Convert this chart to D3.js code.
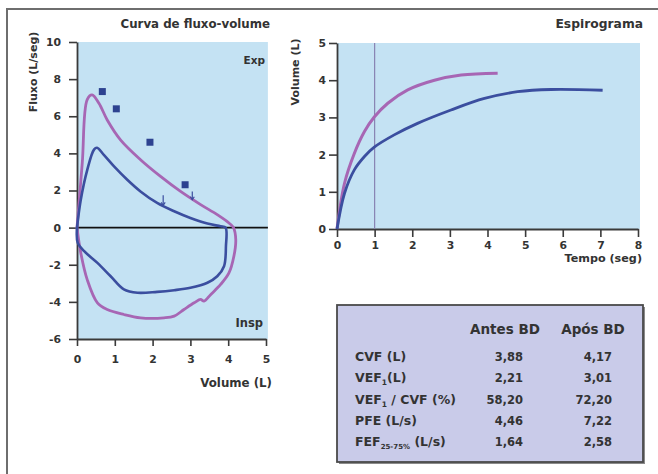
<!DOCTYPE html>
<html>
<head>
<meta charset="utf-8">
<script src="https://cdn.jsdelivr.net/npm/d3@7"></script>
<style>
  body { margin: 0; background: #fff; }
  svg text { font-family: "DejaVu Sans", sans-serif; font-weight: bold; fill: #333; }
</style>
</head>
<body>
<svg width="658" height="474"></svg>
<script>
// flow-volume loops, [volume (L), flow (L/s)]
var loopAntes = [[0,0],[0.1,1.5],[0.27,3.1],[0.45,4.2],[0.53,4.3],[0.71,3.92],[0.98,3.3],[1.33,2.58],[1.68,1.95],
  [2.12,1.33],[2.57,0.88],[3.0,0.52],[3.45,0.22],[3.8,0.07],[3.93,0],[3.94,-1.0],[3.89,-2.08],[3.71,-2.62],
  [3.45,-2.97],[3.0,-3.24],[2.57,-3.37],[2.12,-3.46],[1.6,-3.51],[1.24,-3.33],[0.89,-2.62],[0.54,-1.9],
  [0.19,-1.27],[0.02,-0.82],[0,0]];
var loopApos = [[0,0],[0.14,3.5],[0.27,6.9],[0.4,7.15],[0.58,6.7],[0.8,5.8],[1.15,4.73],[1.68,3.66],[2.21,2.76],
  [2.74,1.95],[3.27,1.24],[3.71,0.7],[4.02,0.25],[4.14,0],[4.2,-0.65],[4.15,-1.54],[4.02,-2.44],[3.8,-3.06],
  [3.54,-3.6],[3.36,-3.96],[3.27,-3.87],[3.1,-4.05],[2.83,-4.41],[2.57,-4.77],[2.3,-4.86],[1.68,-4.86],
  [1.24,-4.68],[0.8,-4.41],[0.54,-4.05],[0.27,-2.8],[0.1,-1.36],[0,0]];
// predicted values (squares) and arrows
var previstos = [[0.67,7.33],[1.04,6.4],[1.93,4.6],[2.86,2.31]];
var setas = [[2.28,1.75,1.2],[3.05,1.95,1.5]];

// spirogram, [time (s), volume (L)]
var espAntes = [[0,0],[0.2,0.96],[0.46,1.59],[0.73,1.95],[0.99,2.2],[1.52,2.53],[2.14,2.84],[3.03,3.2],
  [3.92,3.51],[4.8,3.69],[5.69,3.75],[7.06,3.73]];
var espApos = [[0,0],[0.2,1.23],[0.46,2.03],[0.73,2.62],[0.99,3.01],[1.35,3.38],[1.88,3.74],[2.59,4.0],
  [3.3,4.14],[4.27,4.19]];

var ticksFluxo = [-6,-4,-2,0,2,4,6,8,10];
var ticksVol = [0,1,2,3,4,5];
var ticksVolEsp = [0,1,2,3,4,5];
var ticksTempo = [0,1,2,3,4,5,6,7,8];

var linhas = ["CVF (L)", "VEF1(L)", "VEF1 / CVF (%)", "PFE (L/s)", "FEF25-75% (L/s)"];
var antesBD = ["3,88", "2,21", "58,20", "4,46", "1,64"];
var aposBD = ["4,17", "3,01", "72,20", "7,22", "2,58"];

var corAntes = "#3b4e9f", corApos = "#a766b4", fundo = "#c4e2f3";

var svg = d3.select("svg");

// frame
svg.append("path").attr("d", "M7,474V9H658").attr("fill", "none").attr("stroke", "#6e6e6e").attr("stroke-width", 2);

var fmt = function(d){ return String(d); };

// ---------- flow-volume ----------
var x1 = d3.scaleLinear().domain([0, 5]).range([77, 266]);
var y1 = d3.scaleLinear().domain([-6, 10]).range([339, 42]);

svg.append("rect").attr("x", x1(0)).attr("y", y1(10)).attr("width", x1(5.05) - x1(0))
  .attr("height", y1(-6) - y1(10)).attr("fill", fundo);

var gy1 = svg.append("g").attr("transform", "translate(" + x1(0) + ",0)")
  .call(d3.axisLeft(y1).tickValues(ticksFluxo).tickFormat(fmt).tickSize(8).tickPadding(8).tickSizeOuter(0));
var gx1 = svg.append("g").attr("transform", "translate(0," + y1(-6) + ")")
  .call(d3.axisBottom(x1).tickValues(ticksVol).tickFormat(fmt).tickSize(7).tickPadding(9).tickSizeOuter(0));

svg.append("line").attr("x1", x1(0)).attr("x2", x1(5.05)).attr("y1", y1(0)).attr("y2", y1(0))
  .attr("stroke", "#111").attr("stroke-width", 1.6);

var linha1 = d3.line().x(function(d){return x1(d[0]);}).y(function(d){return y1(d[1]);}).curve(d3.curveCatmullRom);
svg.append("path").datum(loopApos).attr("d", linha1).attr("fill", "none").attr("stroke", corApos).attr("stroke-width", 2.8);
svg.append("path").datum(loopAntes).attr("d", linha1).attr("fill", "none").attr("stroke", corAntes).attr("stroke-width", 2.6);

svg.selectAll(".prev").data(previstos).enter().append("rect").attr("class", "prev")
  .attr("x", function(d){return x1(d[0]) - 3.5;}).attr("y", function(d){return y1(d[1]) - 3.5;})
  .attr("width", 7).attr("height", 7).attr("fill", "#2d4290");

setas.forEach(function(s){
  svg.append("line").attr("x1", x1(s[0])).attr("x2", x1(s[0])).attr("y1", y1(s[1])).attr("y2", y1(s[2]))
    .attr("stroke", "#3b4e9f").attr("stroke-width", 1.2);
  svg.append("path").attr("d", "M" + (x1(s[0]) - 2) + "," + (y1(s[2]) - 3) + "L" + x1(s[0]) + "," + y1(s[2]) + "L" + (x1(s[0]) + 2) + "," + (y1(s[2]) - 3))
    .attr("fill", "none").attr("stroke", "#3b4e9f").attr("stroke-width", 1.2);
});

svg.append("text").attr("x", 270).attr("y", 28).attr("text-anchor", "end").attr("font-size", 11.8).text("Curva de fluxo-volume");
svg.append("text").attr("x", 265).attr("y", 64).attr("text-anchor", "end").attr("font-size", 10.5).text("Exp");
svg.append("text").attr("x", 263).attr("y", 327).attr("text-anchor", "end").attr("font-size", 11.5).text("Insp");
svg.append("text").attr("transform", "translate(37,72) rotate(-90)").attr("text-anchor", "middle").attr("font-size", 11).text("Fluxo (L/seg)");
svg.append("text").attr("x", 272).attr("y", 387).attr("text-anchor", "end").attr("font-size", 11.8).text("Volume (L)");

// ---------- spirogram ----------
var x2 = d3.scaleLinear().domain([0, 8]).range([337, 638]);
var y2 = d3.scaleLinear().domain([0, 5]).range([229, 43]);

svg.append("rect").attr("x", x2(0)).attr("y", y2(5)).attr("width", x2(8) - x2(0) + 2)
  .attr("height", y2(0) - y2(5)).attr("fill", fundo);

var gy2 = svg.append("g").attr("transform", "translate(" + x2(0) + ",0)")
  .call(d3.axisLeft(y2).tickValues(ticksVolEsp).tickFormat(fmt).tickSize(8).tickPadding(3).tickSizeOuter(0));
var gx2 = svg.append("g").attr("transform", "translate(0," + y2(0) + ")")
  .call(d3.axisBottom(x2).tickValues(ticksTempo).tickFormat(fmt).tickSize(8).tickPadding(4).tickSizeOuter(0));

svg.append("line").attr("x1", x2(1)).attr("x2", x2(1)).attr("y1", y2(5)).attr("y2", y2(0))
  .attr("stroke", "#8883b3").attr("stroke-width", 1.2);

var linha2 = d3.line().x(function(d){return x2(d[0]);}).y(function(d){return y2(d[1]);}).curve(d3.curveCatmullRom);
svg.append("path").datum(espApos).attr("d", linha2).attr("fill", "none").attr("stroke", corApos).attr("stroke-width", 3);
svg.append("path").datum(espAntes).attr("d", linha2).attr("fill", "none").attr("stroke", corAntes).attr("stroke-width", 2.8);

svg.append("text").attr("x", 643).attr("y", 28).attr("text-anchor", "end").attr("font-size", 12.3).text("Espirograma");
svg.append("text").attr("transform", "translate(299,72) rotate(-90)").attr("text-anchor", "middle").attr("font-size", 11).text("Volume (L)");
svg.append("text").attr("x", 642).attr("y", 262).attr("text-anchor", "end").attr("font-size", 11.2).text("Tempo (seg)");

// axis styling
[gy1, gx1, gy2, gx2].forEach(function(g){
  g.select(".domain").attr("stroke", "#3a3a3a").attr("stroke-width", 1.8);
  g.selectAll(".tick line").attr("stroke", "#3a3a3a").attr("stroke-width", 1.6);
  g.selectAll(".tick text").attr("font-size", 10.8).attr("font-family", "DejaVu Sans, sans-serif")
    .attr("font-weight", "bold").attr("fill", "#333");
});

// ---------- table ----------
var tb = svg.append("g");
tb.append("rect").attr("x", 339).attr("y", 307).attr("width", 306).attr("height", 157).attr("fill", "#8a8a8a");
tb.append("rect").attr("x", 337).attr("y", 305).attr("width", 306).attr("height", 157)
  .attr("fill", "#c9cbe9").attr("stroke", "#4a4a4a").attr("stroke-width", 1.8);

tb.append("text").attr("x", 505).attr("y", 334).attr("text-anchor", "middle").attr("font-size", 13.5).text("Antes BD");
tb.append("text").attr("x", 593).attr("y", 334).attr("text-anchor", "middle").attr("font-size", 13.5).text("Após BD");

var rowY = d3.scalePoint().domain(d3.range(linhas.length)).range([361, 446]);

linhas.forEach(function(l, i){
  var t = tb.append("text").attr("x", 355).attr("y", rowY(i)).attr("font-size", 12.5);
  if (l.indexOf("VEF1") === 0) {
    t.append("tspan").text("VEF");
    t.append("tspan").attr("font-size", 7.5).attr("dy", 3).text("1");
    t.append("tspan").attr("dy", -3).text(l.slice(4));
  } else if (l.indexOf("FEF25-75%") === 0) {
    t.append("tspan").text("FEF");
    t.append("tspan").attr("font-size", 7).attr("dy", 3).text("25-75%");
    t.append("tspan").attr("dy", -3).text(l.slice(9));
  } else {
    t.text(l);
  }
  tb.append("text").attr("x", 523).attr("y", rowY(i)).attr("text-anchor", "end").attr("font-size", 11.5).text(antesBD[i]);
  tb.append("text").attr("x", 612).attr("y", rowY(i)).attr("text-anchor", "end").attr("font-size", 11.5).text(aposBD[i]);
});
</script>
</body>
</html>
